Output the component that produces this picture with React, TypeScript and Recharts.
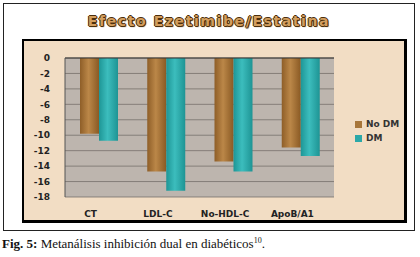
import { Bar, BarChart, CartesianGrid, ReferenceLine, XAxis, YAxis } from "recharts";

const categories = ["CT", "LDL-C", "No-HDL-C", "ApoB/A1"];
const noDm = [-9.8, -14.7, -13.4, -11.6];
const dm = [-10.7, -17.2, -14.7, -12.7];
const yTicks = [0, -2, -4, -6, -8, -10, -12, -14, -16, -18];

const data = categories.map((c, i) => ({ name: c, "No DM": noDm[i], DM: dm[i] }));

const COLORS = {
  bg: "#F2DDC4",
  wall: "#BDB5AE",
  grid: "#77716C",
  noDm: "#A8763A",
  dm: "#2BA8A8",
};

const FONT = "'DejaVu Sans', Verdana, sans-serif";

function LegendBox() {
  const items = [
    { label: "No DM", color: COLORS.noDm },
    { label: "DM", color: COLORS.dm },
  ];
  return (
    <div style={{ position: "absolute", left: 331, top: 76, fontFamily: FONT, fontSize: 9, fontWeight: 700, color: "#333" }}>
      {items.map((it) => (
        <div key={it.label} style={{ display: "flex", alignItems: "center", height: 14 }}>
          <span style={{ width: 7, height: 7, background: it.color, marginRight: 4 }} />
          {it.label}
        </div>
      ))}
    </div>
  );
}

export default function App() {
  return (
    <div style={{ position: "fixed", left: 0, top: 0, width: 420, height: 257, background: "#fff" }}>
      <div
        style={{
          position: "absolute",
          left: 3,
          top: 3,
          width: 410,
          height: 226,
          border: "1px solid #222",
        }}
      />
      <div
        style={{
          position: "absolute",
          top: 13,
          left: 3,
          width: 412,
          textAlign: "center",
          fontFamily: FONT,
          fontWeight: 700,
          fontSize: 14,
          letterSpacing: 1.6,
          color: "#D39E5E",
          textShadow:
            "1px 0 0 #4a2e0c, -1px 0 0 #4a2e0c, 0 1px 0 #4a2e0c, 0 -1px 0 #4a2e0c, 1px 1px 1px #4a2e0c",
        }}
      >
        Efecto Ezetimibe/Estatina
      </div>
      <div
        style={{
          position: "absolute",
          left: 22,
          top: 39,
          width: 380,
          height: 179,
          background: COLORS.bg,
          borderLeft: "2px solid #000",
          borderTop: "2px solid #000",
          borderRight: "3px solid #000",
          borderBottom: "3px solid #000",
        }}
      >
        <BarChart
          width={380}
          height={179}
          data={data}
          margin={{ top: 17, right: 70, left: 0, bottom: 0 }}
          barGap={0}
          barCategoryGap="21%"
        >
          <defs>
            <linearGradient id="gBrown" x1="0" y1="0" x2="1" y2="0">
              <stop offset="0%" stopColor="#8E5E28" />
              <stop offset="45%" stopColor="#BB8748" />
              <stop offset="100%" stopColor="#8A5A24" />
            </linearGradient>
            <linearGradient id="gTeal" x1="0" y1="0" x2="1" y2="0">
              <stop offset="0%" stopColor="#1E9696" />
              <stop offset="45%" stopColor="#3CBDBD" />
              <stop offset="100%" stopColor="#1E9494" />
            </linearGradient>
          </defs>
          <CartesianGrid vertical={false} fill={COLORS.wall} stroke={COLORS.grid} strokeOpacity={0.8} />
          <XAxis
            dataKey="name"
            orientation="bottom"
            axisLine={false}
            tickLine={false}
            height={23}
            tickMargin={8}
            tick={{ fontSize: 9, fontWeight: 700, fill: "#222", fontFamily: FONT, dx: -8 }}
            interval={0}
          />
          <YAxis
            domain={[-18, 0]}
            ticks={yTicks}
            width={41}
            tickLine={false}
            tickSize={0}
            tickMargin={15}
            axisLine={{ stroke: "#555" }}
            tick={{ fontSize: 9, fontWeight: 700, fill: "#222", fontFamily: FONT }}
            interval={0}
          />
          <ReferenceLine y={0} stroke="#333" />
          <Bar dataKey="No DM" fill="url(#gBrown)" barSize={19} isAnimationActive={false} />
          <Bar dataKey="DM" fill="url(#gTeal)" barSize={19} isAnimationActive={false} />
        </BarChart>
        <LegendBox />
      </div>
      <div
        style={{
          position: "absolute",
          left: 2,
          top: 236,
          fontFamily: "'Liberation Serif', 'Times New Roman', serif",
          fontSize: 13,
          color: "#111",
        }}
      >
        <b>Fig. 5:</b> Metanálisis inhibición dual en diabéticos<sup style={{ fontSize: 8 }}>10</sup>.
      </div>
    </div>
  );
}
